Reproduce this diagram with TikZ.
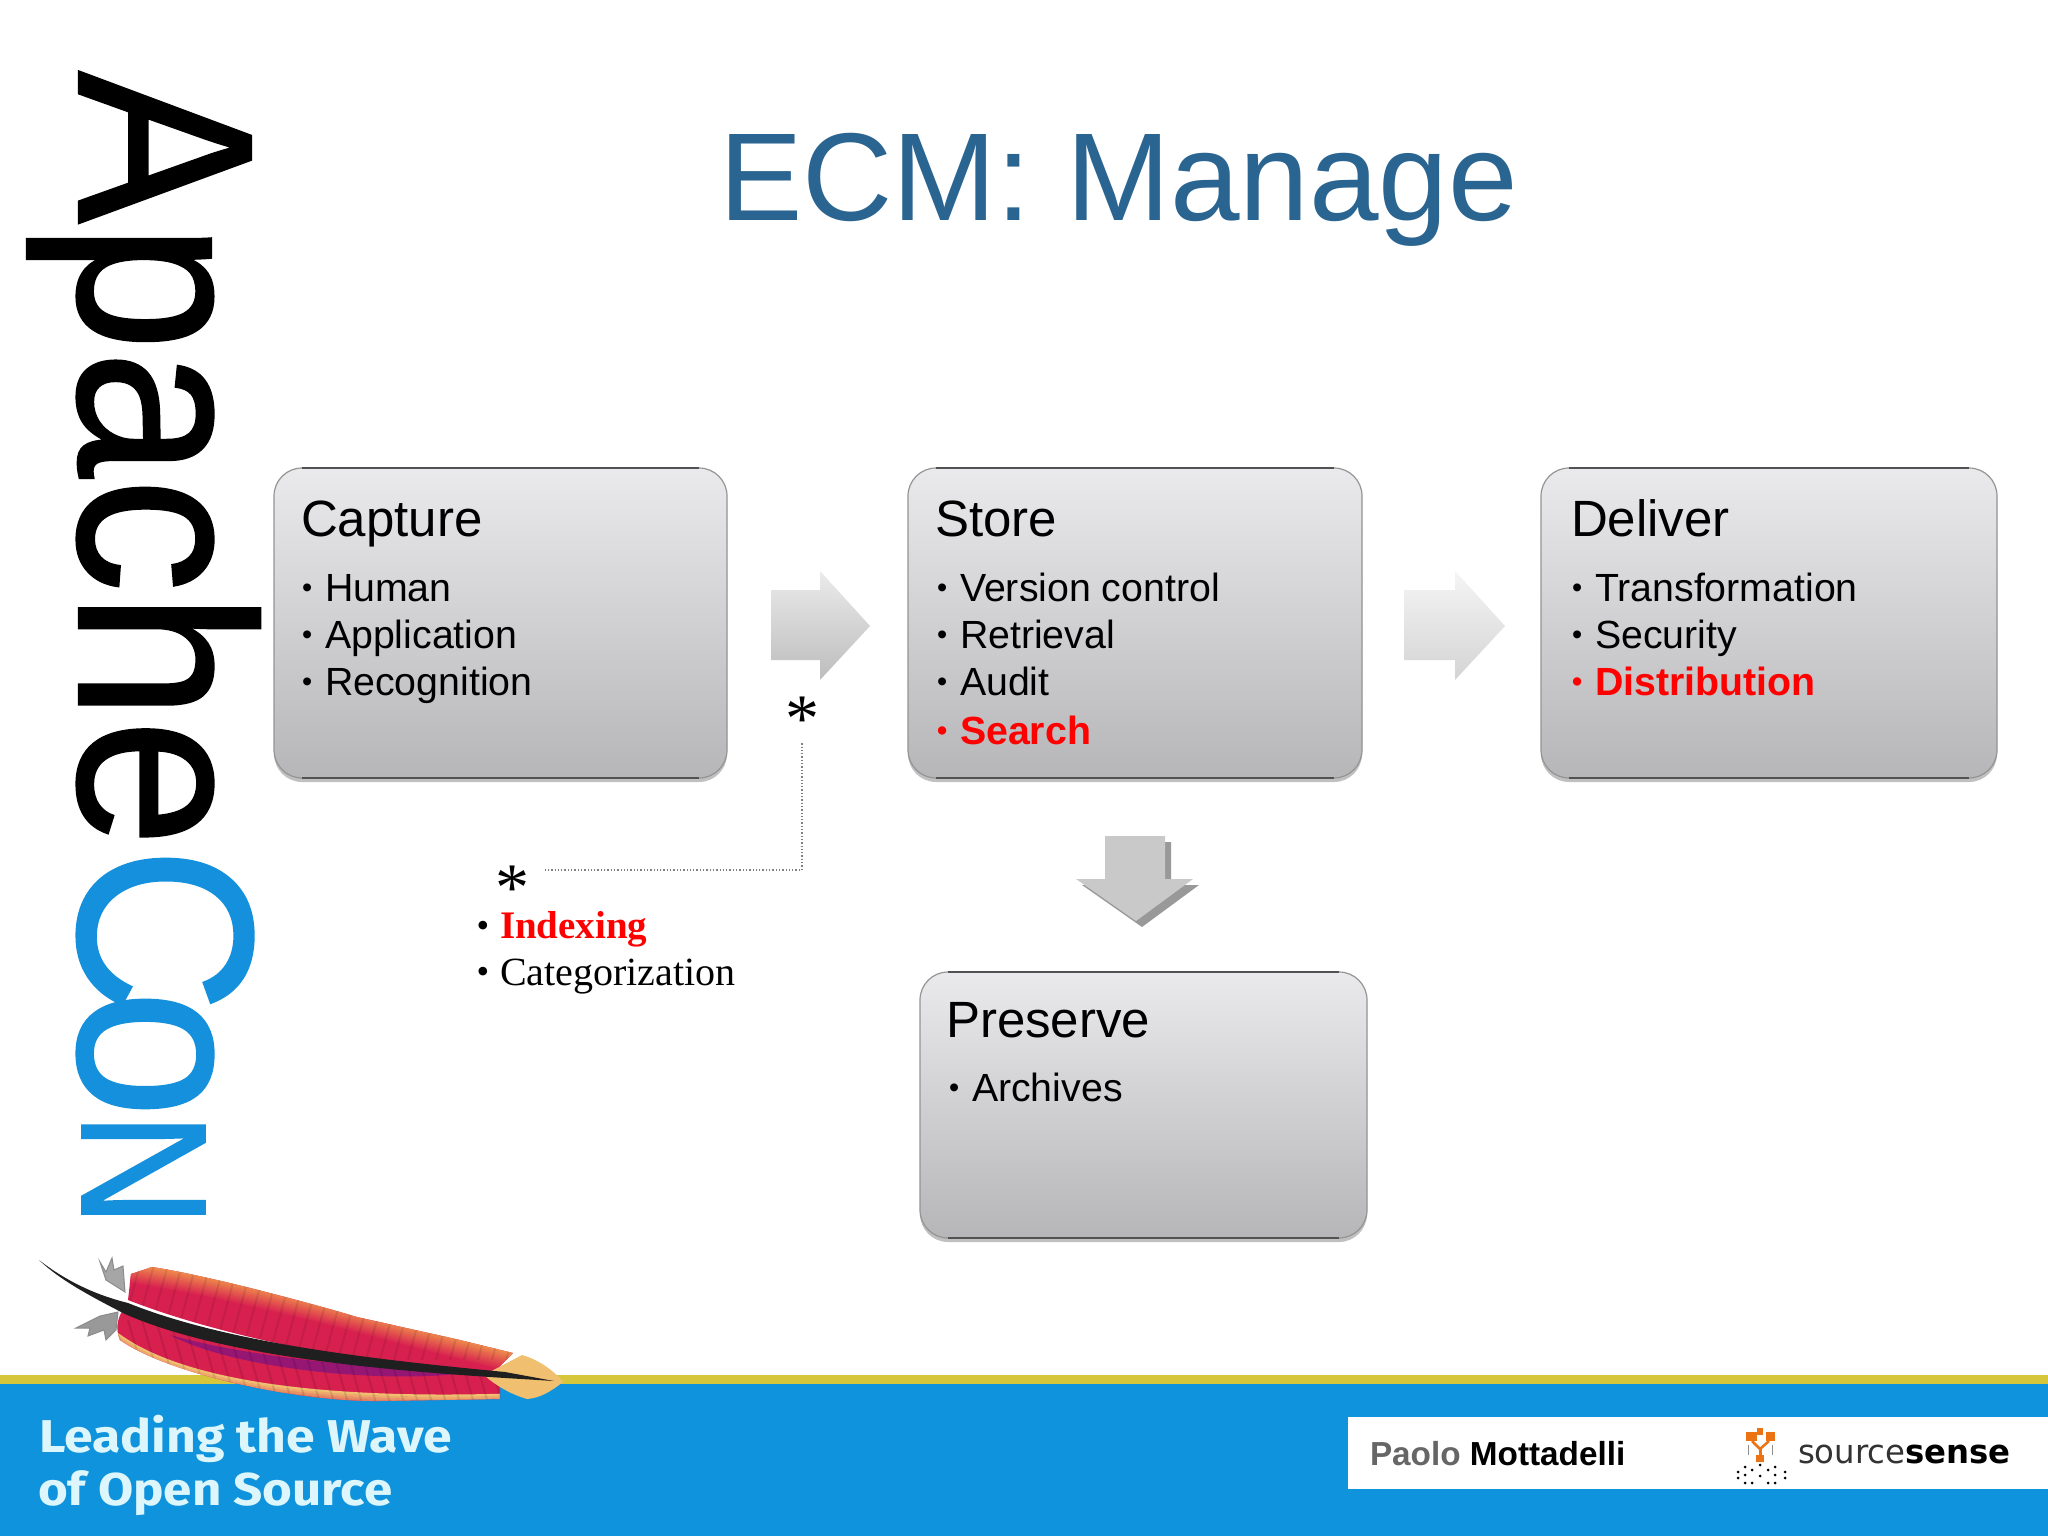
\documentclass[tikz,border=0pt]{standalone}
\usepackage{fontspec}
\setmainfont{Liberation Sans}
\newfontfamily\serifx{Liberation Serif}
\newfontfamily\dejav{DejaVu Sans}
\newfontfamily\firax{Fira Sans}
\newfontfamily\heavyx[FakeBold=0.9]{Liberation Sans}
\usetikzlibrary{shadows,calc}
\definecolor{titleblue}{HTML}{2A6490}
\definecolor{conblue}{HTML}{1590DC}
\definecolor{barblue}{HTML}{0F93DC}
\definecolor{baryellow}{HTML}{D6C63C}
\definecolor{boxtop}{HTML}{EAE9EC}
\definecolor{boxbot}{HTML}{B6B5B7}
\definecolor{footertext}{HTML}{DDF6FC}
\definecolor{logoorange}{HTML}{EC7314}
\definecolor{featherred}{HTML}{D8204F}
\definecolor{featherorange}{HTML}{EE8A4C}
\definecolor{feathertan}{HTML}{F0C070}
\definecolor{itemred}{HTML}{FF0000}
\newcommand{\fs}[1]{\fontsize{#1}{#1}\selectfont}
\tikzset{
  txt/.style={inner sep=0pt,outer sep=0pt,anchor=base west},
  heading/.style={txt,font=\fs{51}},
  item/.style={txt,font=\fs{39.3}},
  reditem/.style={txt,font=\fs{39.3}\bfseries,text=itemred},
  panel/.style={rectangle,rounded corners=28pt,inner sep=0pt,outer sep=0pt,
    top color=boxtop,bottom color=boxbot,draw=black!42,line width=1.2pt,
    drop shadow={shadow xshift=0pt,shadow yshift=-4pt,opacity=.35,fill=black!70}},
  edge/.style={draw=black!68,line width=1.8pt},
  note/.style={txt,font=\serifx\fs{40}},
  star/.style={inner sep=0pt,outer sep=0pt,anchor=center,font=\serifx\fs{68}},
  logosq/.style={fill=logoorange,draw=none},
  logodot/.style={fill=black,draw=none}
}
\newcommand{\bul}[1]{\makebox[23pt][l]{\raisebox{4pt}{\fs{29}#1}}}
\begin{document}
\begin{tikzpicture}[x=1pt,y=-1pt]
\useasboundingbox (0,0) rectangle (2048,1536);
\fill[white] (0,0) rectangle (2048,1536);
% title
\node[txt,font=\fs{125},text=titleblue] (title) at (719,220) {ECM: Manage};
% ApacheCon
\node[txt,rotate=-90,font=\heavyx\fs{250}] (apache) at (79,71) {\scalebox{0.915}[1]{Apache}};
\node[txt,rotate=-90,font=\heavyx\fs{250},text=conblue] (conc) at (79,847) {\scalebox{0.92}[1]{C}};
\node[txt,rotate=-90,font=\heavyx\fs{250},text=conblue] (cono) at (79,990) {\scalebox{0.92}[1]{o}};
\node[txt,rotate=-90,font=\heavyx\fs{179},text=conblue] (conn) at (82,1112) {\scalebox{0.89}[1]{N}};
% footer
\fill[barblue] (0,1384) rectangle (2048,1536);
\fill[baryellow] (0,1375) rectangle (2048,1384);
\fill[white] (1348,1417) rectangle (2048,1489);
% feather: grey tufts
\draw[line width=1pt,draw=black!45,fill=black!35] (100,1262) -- (106,1272) -- (112,1258) -- (114,1270) -- (123,1266) -- (125,1292) -- (106,1280) -- cycle;
\draw[line width=1pt,draw=black!45,fill=black!40] (118,1312) -- (100,1316) -- (76,1328) -- (90,1328) -- (88,1336) -- (104,1330) -- (106,1340) -- (116,1330) -- cycle;
% feather: lower vane
\begin{scope}
\clip (124,1308) .. controls (116,1320) and (116,1330) .. (120,1340) .. controls (170,1375) and (300,1402) .. (379,1401) -- (500,1399) -- (500,1372) .. controls (380,1366) and (230,1350) .. cycle;
\fill[featherred] (100,1290) rectangle (520,1410);
\foreach \i in {0,...,8}{
  \pgfmathsetmacro\m{min(100,\i*14)}
  \draw[featherred!\m!feathertan,line width=2.6pt] (116,1334+\i*2.2-1) .. controls (180,1382+\i*2.2) and (320,1404+\i*2.2-4) .. (500,1399+\i*2.2-4);
}
\fill[black!20!blue!55!featherred,opacity=.55] (170,1335) .. controls (260,1360) and (380,1368) .. (470,1372) .. controls (400,1384) and (240,1372) .. cycle;
\foreach \x in {100,114,...,520}{
  \draw[black,opacity=.10,line width=2pt] (\x,1320) -- (\x+26,1410);
}
\end{scope}
% feather: upper vane
\begin{scope}
\clip (131,1274) -- (152,1267) .. controls (200,1274) and (300,1300) .. (357,1317) -- (460,1340) -- (513,1353) -- (490,1376) .. controls (380,1366) and (230,1340) .. (128,1300) -- cycle;
\fill[featherred] (100,1250) rectangle (530,1390);
\foreach \i in {9,8,...,0}{
  \pgfmathsetmacro\m{min(100,\i*11)}
  \draw[featherred!\m!featherorange,line width=2.6pt] (120,1262+\i*2.2) .. controls (250,1280+\i*2.2) and (400,1326+\i*2.2) .. (525,1356+\i*2.2);
}
\foreach \x in {100,114,...,520}{
  \draw[black,opacity=.09,line width=2pt] (\x,1360) -- (\x+30,1250);
}
\end{scope}
% feather: tip and quill
\fill[feathertan] (484,1375) -- (522,1355) .. controls (540,1360) and (555,1372) .. (563,1382) .. controls (550,1392) and (540,1398) .. (527,1399) .. controls (510,1394) and (495,1385) .. cycle;
\fill[black!88] (39,1260) .. controls (70,1284) and (100,1296) .. (128,1303) .. controls (230,1344) and (380,1360) .. (505,1372) -- (554,1381) -- (505,1378) .. controls (380,1370) and (220,1356) .. (125,1314) .. controls (90,1296) and (60,1280) .. cycle;
% footer text
\node[txt,font=\firax\bfseries\fs{46},text=footertext] (wave1) at (39,1452) {\scalebox{1.125}[1]{Leading the Wave}};
\node[txt,font=\firax\bfseries\fs{46},text=footertext] (wave2) at (38,1505) {\scalebox{1.11}[1]{of Open Source}};
\node[txt,font=\fs{33.3}\bfseries,text=black!60] (paolo) at (1370,1465) {Paolo \textcolor{black}{Mottadelli}};
\node[txt,font=\dejav\fs{33},text=black!80] (ssense) at (1798,1463) {\scalebox{0.98}[1]{source\textcolor{black}{\bfseries sense}}};
% logo
\fill[logosq] (1746,1432) rectangle (1757,1441);
\fill[logosq] (1766,1432) rectangle (1775,1441);
\fill[logosq] (1757,1428) rectangle (1763,1435);
\draw[logoorange,line width=2.5pt] (1752,1441) -- (1760,1449) -- (1769,1441);
\draw[logoorange,line width=3pt] (1760,1449) -- (1760,1462);
\fill[logosq] (1756,1455) rectangle (1764,1462);
\foreach \px/\py in {1738/1472,1738/1478,1745/1467,1745/1483,1752/1470,1752/1483,1760/1465,1768/1470,1768/1483,1775/1467,1775/1483,1785/1472,1785/1478,1760/1476,1745/1475,1775/1475}{
  \fill[logodot] (\px,\py) circle (1.5pt);
}
\draw[black!45,line width=1pt] (1748,1445) -- (1748,1455) (1772,1445) -- (1772,1455);
% panels
\node[panel,minimum width=453pt,minimum height=310pt] (capture) at (500.5,623) {};
\node[panel,minimum width=454pt,minimum height=310pt] (store) at (1135,623) {};
\node[panel,minimum width=456pt,minimum height=310pt] (deliver) at (1769,623) {};
\node[panel,minimum width=447pt,minimum height=266pt] (preserve) at (1143.5,1105) {};
\foreach \n in {capture,store,deliver,preserve}{
  \draw[edge] ([xshift=28pt]\n.north west) -- ([xshift=-28pt]\n.north east);
  \draw[edge] ([xshift=28pt]\n.south west) -- ([xshift=-28pt]\n.south east);
}
% capture text
\node[heading] (capt) at (301,536) {Capture};
\node[item] (c1) at (302,601) {\bul{•}Human};
\node[item] (c2) at (302,648) {\bul{•}Application};
\node[item] (c3) at (302,695) {\bul{•}Recognition};
% store text
\node[heading] (stot) at (935,536) {Store};
\node[item] (s1) at (937,601) {\bul{•}Version control};
\node[item] (s2) at (937,648) {\bul{•}Retrieval};
\node[item] (s3) at (937,695) {\bul{•}Audit};
\node[reditem] (s4) at (937,744) {\bul{•}Search};
% deliver text
\node[heading] (delt) at (1571,536) {Deliver};
\node[item] (d1) at (1572,601) {\bul{•}Transformation};
\node[item] (d2) at (1572,648) {\bul{•}Security};
\node[reditem] (d3) at (1572,695) {\bul{•}Distribution};
% preserve text
\node[heading] (pret) at (946,1037) {Preserve};
\node[item] (p1) at (949,1101) {\bul{•}Archives};
% block arrows
\shade[top color=black!8,bottom color=black!26] (771,590) -- (820,590) -- (820,571) -- (870,626) -- (820,680) -- (820,660) -- (771,660) -- cycle;
\shade[top color=black!4,bottom color=black!17] (1404,590) -- (1455,590) -- (1455,571) -- (1505,626) -- (1455,680) -- (1455,660) -- (1404,660) -- cycle;
\fill[black!40] (1111,842) -- (1171,842) -- (1171,885) -- (1199,885) -- (1142,927) -- (1082,885) -- (1111,885) -- cycle;
\fill[black!21] (1105,836) -- (1165,836) -- (1165,879) -- (1193,879) -- (1136,921) -- (1076,879) -- (1105,879) -- cycle;
% footnote
\node[star] (a1) at (802,719) {*};
\node[star] (a2) at (512,888) {*};
\draw[black!50,line width=1.3pt,dotted] ([yshift=-2pt]a1.south) |- ([xshift=16pt,yshift=18pt]a2.east);
\node[note,font=\serifx\bfseries\fs{39},text=itemred] (idx) at (500,938) {Indexing};
\node[note] (cat) at (500,985) {Categorization};
\node[txt,font=\serifx\fs{36},anchor=base] (b1) at (483,937) {•};
\node[txt,font=\serifx\fs{36},anchor=base] (b2) at (483,983) {•};
\end{tikzpicture}
\end{document}
